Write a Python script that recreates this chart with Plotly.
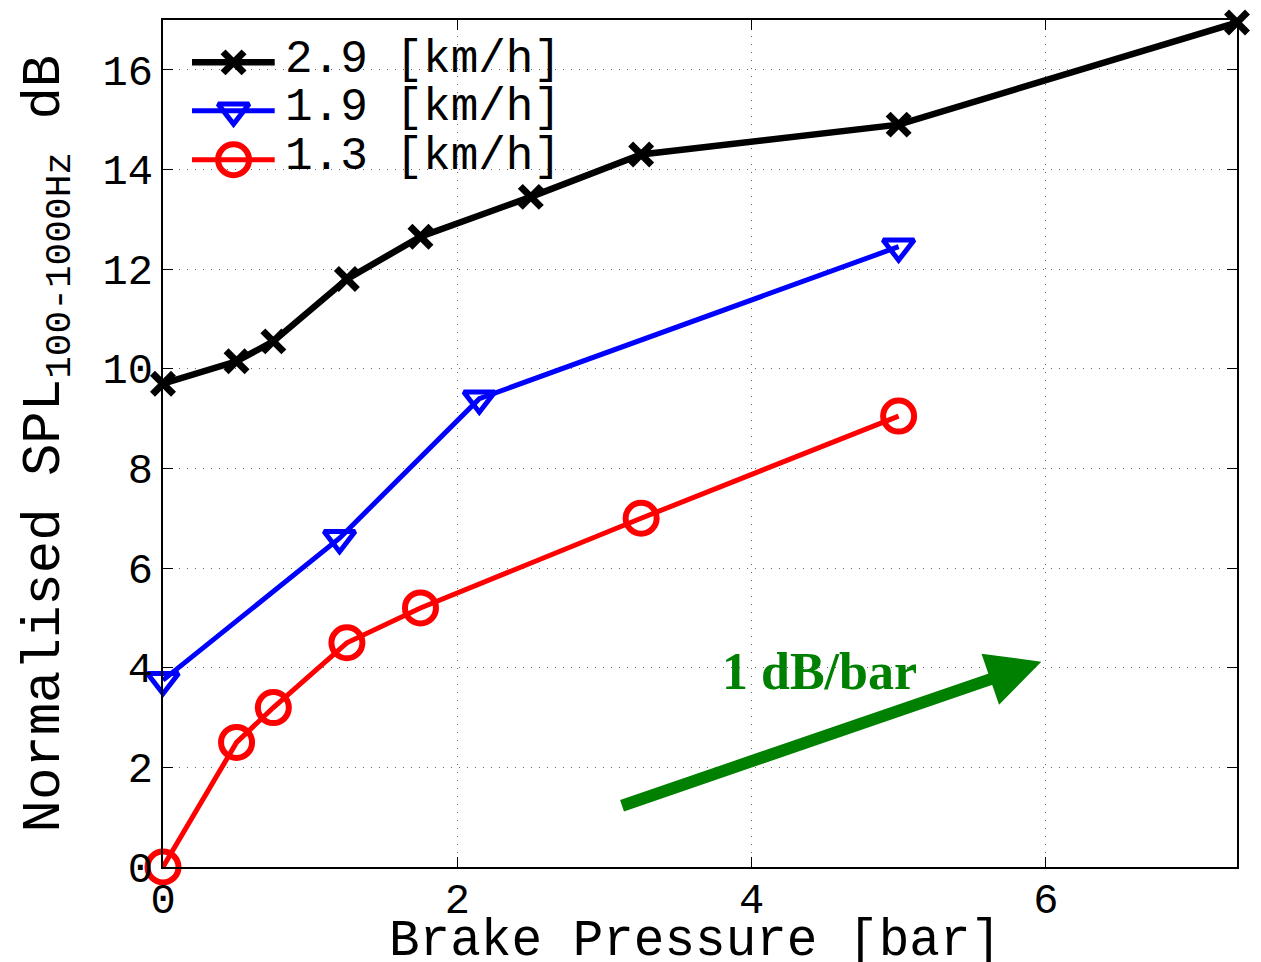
import plotly.graph_objects as go

# Data
pressure_29 = [0, 0.5, 0.75, 1.25, 1.75, 2.5, 3.25, 5.0, 7.3]
spl_29 = [9.7, 10.15, 10.55, 11.8, 12.65, 13.45, 14.3, 14.9, 16.95]

pressure_19 = [0, 1.2, 2.15, 5.0]
spl_19 = [3.75, 6.6, 9.4, 12.45]

pressure_13 = [0, 0.5, 0.75, 1.25, 1.75, 3.25, 5.0]
spl_13 = [0.0, 2.5, 3.2, 4.5, 5.2, 7.0, 9.05]

series_names = ["2.9 [km/h]", "1.9 [km/h]", "1.3 [km/h]"]
x_ticks = [0, 2, 4, 6]
y_ticks = [0, 2, 4, 6, 8, 10, 12, 14, 16]

MONO = "Liberation Mono, Courier New, monospace"

styles = [
    dict(color="black", lw=6.5, symbol="x-thin", size=21, mlw=7),
    dict(color="#0000ff", lw=5, symbol="triangle-down-open", size=27, mlw=5),
    dict(color="#ff0000", lw=5, symbol="circle-open", size=31, mlw=6),
]
xs = [pressure_29, pressure_19, pressure_13]
ys = [spl_29, spl_19, spl_13]

fig = go.Figure()
for xv, yv, name, st in zip(xs, ys, series_names, styles):
    fig.add_trace(go.Scatter(
        x=xv, y=yv, name=name, mode="lines+markers",
        line=dict(color=st["color"], width=st["lw"]),
        marker=dict(symbol=st["symbol"], size=st["size"], color=st["color"],
                    line=dict(color=st["color"], width=st["mlw"])),
        cliponaxis=False, showlegend=False))

# Custom legend (glyphs drawn on an invisible overlay axis spanning [0,1])
leg_rows = [0.950, 0.893, 0.835]
leg_x = [0.027, 0.0657, 0.104]
for row, name, st in zip(leg_rows, series_names, styles):
    fig.add_trace(go.Scatter(
        x=leg_x, y=[row] * 3, xaxis="x2", yaxis="y2", mode="lines",
        line=dict(color=st["color"], width=st["lw"]), showlegend=False,
        hoverinfo="skip", cliponaxis=False))
    fig.add_trace(go.Scatter(
        x=[leg_x[1]], y=[row], xaxis="x2", yaxis="y2", mode="markers",
        marker=dict(symbol=st["symbol"], size=st["size"], color=st["color"],
                    line=dict(color=st["color"], width=st["mlw"])),
        showlegend=False, hoverinfo="skip", cliponaxis=False))
    fig.add_annotation(x=0.1115, y=row + 0.003, xref="paper", yref="paper",
                       xanchor="left", yanchor="middle", showarrow=False,
                       text=name, font=dict(family=MONO, size=46, color="black"))

# Arrow + label
fig.add_annotation(x=5.97, y=4.12, ax=3.11, ay=1.22, xref="x", yref="y",
                   axref="x", ayref="y", showarrow=True, arrowhead=2,
                   arrowsize=0.9, arrowwidth=12, arrowcolor="#008000", text="")
fig.add_annotation(x=4.46, y=3.92, xref="x", yref="y", showarrow=False,
                   text="<b>1 dB/bar</b>",
                   font=dict(family="Liberation Serif, Times New Roman, serif",
                             size=52, color="#008000"))

# Axis titles
fig.add_annotation(x=0.4953, y=-0.1235, xref="paper", yref="paper",
                   xanchor="center", yanchor="bottom", showarrow=False,
                   text="Brake Pressure [bar]",
                   font=dict(family=MONO, size=51, color="black"))
fig.add_annotation(x=-0.108, y=0.5, xref="paper", yref="paper",
                   xanchor="center", yanchor="middle", showarrow=False, textangle=-90,
                   text="Normalised SPL<sub>100-1000Hz</sub> dB",
                   font=dict(family=MONO, size=54, color="black"))

axis_common = dict(showline=True, linecolor="black", linewidth=1.5, mirror="ticks",
                   ticks="inside", ticklen=10, tickcolor="black",
                   showgrid=True, gridcolor="#666666", griddash="1px,7px", gridwidth=1.2,
                   zeroline=False, automargin=False,
                   tickfont=dict(family=MONO, size=42, color="black"))

fig.update_xaxes(range=[0, 7.3], tickvals=x_ticks, ticklabelstandoff=-6, **axis_common)
fig.update_yaxes(range=[0, 17], tickvals=y_ticks, **axis_common)

fig.update_layout(
    width=1261, height=962,
    margin=dict(l=163, r=24, t=20, b=95),
    plot_bgcolor="white", paper_bgcolor="white",
    showlegend=False,
    xaxis2=dict(overlaying="x", range=[0, 1], visible=False, fixedrange=True),
    yaxis2=dict(overlaying="y", range=[0, 1], visible=False, fixedrange=True),
)

fig.write_html("out.html")
